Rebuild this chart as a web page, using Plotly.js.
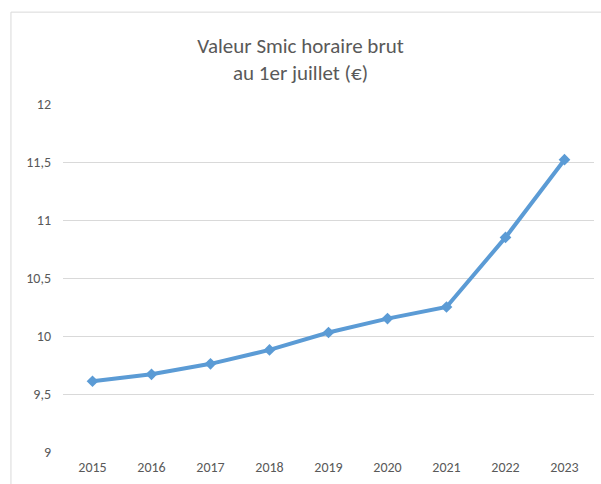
<!DOCTYPE html>
<html>
<head>
<meta charset="utf-8">
<script src="https://cdn.plot.ly/plotly-3.0.1.min.js"></script>
<style>
html,body{margin:0;padding:0;background:#fff;}
#chart{width:601px;height:484px;}
</style>
</head>
<body>
<div id="chart"></div>
<script>
const years = ["2015","2016","2017","2018","2019","2020","2021","2022","2023"];
const smic = [9.61, 9.67, 9.76, 9.88, 10.03, 10.15, 10.25, 10.85, 11.52];
const yTickVals = [9, 9.5, 10, 10.5, 11, 11.5, 12];
const yTickText = ["9", "9,5", "10", "10,5", "11", "11,5", "12"];

const FONT = "Carlito, Lato, 'Open Sans', sans-serif";
const GREY = "#595959";

const trace = {
  x: years,
  y: smic,
  type: "scatter",
  mode: "lines+markers",
  line: {color: "#5B9BD5", width: 4},
  marker: {symbol: "diamond", size: 9, color: "#5B9BD5"},
  hoverinfo: "x+y"
};

const layout = {
  width: 601,
  height: 484,
  paper_bgcolor: "#ffffff",
  plot_bgcolor: "#ffffff",
  margin: {l: 63, r: 7, t: 104, b: 32},
  showlegend: false,
  title: {
    text: "Valeur Smic horaire brut<br>au 1er juillet (€)",
    font: {family: FONT, size: 21, color: GREY},
    x: 0.5, xanchor: "center",
    y: 0.8915, yanchor: "middle"
  },
  xaxis: {
    type: "category",
    range: [-0.5, 8.5],
    showgrid: false,
    zeroline: false,
    showline: false,
    ticks: "",
    tickfont: {family: FONT, size: 14, color: GREY},
    ticklabelstandoff: 5
  },
  yaxis: {
    range: [9, 12],
    tickvals: yTickVals,
    ticktext: yTickText,
    showgrid: true,
    gridcolor: "#d9d9d9",
    gridwidth: 1,
    zeroline: false,
    showline: false,
    ticks: "",
    tickfont: {family: FONT, size: 14, color: GREY},
    ticklabelstandoff: 11
  },
  shapes: [
    {type: "line", xref: "paper", yref: "paper", x0: -0.098, x1: -0.098, y0: 1.264, y1: -0.2,
     line: {color: "#d9d9d9", width: 1}},
    {type: "line", xref: "paper", yref: "paper", x0: -0.098, x1: 1.05, y0: 1.264, y1: 1.264,
     line: {color: "#d9d9d9", width: 1}}
  ]
};

Plotly.newPlot("chart", [trace], layout, {displayModeBar: false, staticPlot: true});
</script>
</body>
</html>
